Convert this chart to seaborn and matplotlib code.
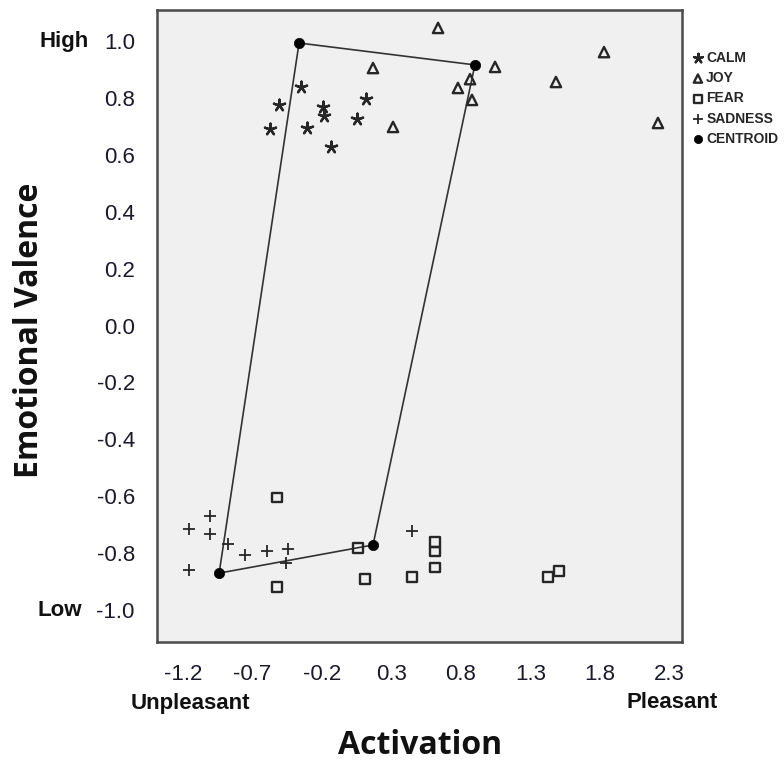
import numpy as np
import pandas as pd
import matplotlib
matplotlib.use('Agg')
import matplotlib.pyplot as plt
import seaborn as sns

# ---- data ----
calm_x = [-0.351, -0.509, -0.193, -0.186, 0.117, 0.052, -0.574, -0.308, -0.135]
calm_y = [0.838, 0.775, 0.768, 0.736, 0.796, 0.726, 0.691, 0.694, 0.627]

joy_x = [0.635, 0.167, 1.045, 0.865, 0.778, 0.879, 1.483, 1.829, 0.311, 2.217]
joy_y = [1.046, 0.905, 0.909, 0.866, 0.835, 0.793, 0.856, 0.961, 0.698, 0.712]

fear_x = [-0.524, -0.524, 0.059, 0.109, 0.447, 0.613, 0.613, 0.613, 1.426, 1.505]
fear_y = [-0.603, -0.919, -0.782, -0.891, -0.884, -0.761, -0.793, -0.849, -0.884, -0.863]

sad_x = [-1.006, -1.157, -1.006, -0.876, -0.754, -0.596, -0.445, -0.459, -1.157, 0.447]
sad_y = [-0.670, -0.715, -0.733, -0.768, -0.807, -0.793, -0.786, -0.835, -0.859, -0.722]

centroid_x = [-0.365, 0.90, -0.94, 0.167]
centroid_y = [0.993, 0.916, -0.870, -0.771]
polygon_order = [0, 1, 3, 2, 0]

groups = ["CALM", "JOY", "FEAR", "SADNESS", "CENTROID"]
x_ticks = [-1.2, -0.7, -0.2, 0.3, 0.8, 1.3, 1.8, 2.3]
y_ticks = [-1.0, -0.8, -0.6, -0.4, -0.2, 0.0, 0.2, 0.4, 0.6, 0.8, 1.0]

df = pd.concat([
    pd.DataFrame({"x": calm_x, "y": calm_y, "group": "CALM"}),
    pd.DataFrame({"x": joy_x, "y": joy_y, "group": "JOY"}),
    pd.DataFrame({"x": fear_x, "y": fear_y, "group": "FEAR"}),
    pd.DataFrame({"x": sad_x, "y": sad_y, "group": "SADNESS"}),
    pd.DataFrame({"x": centroid_x, "y": centroid_y, "group": "CENTROID"}),
], ignore_index=True)

sns.set_theme(style="white")
plt.rcParams['font.family'] = ['Liberation Sans', 'DejaVu Sans']
plt.rcParams['axes.unicode_minus'] = False

W, H = 784, 776
fig = plt.figure(figsize=(W / 100, H / 100), dpi=100)
fig.patch.set_facecolor('white')
ax = fig.add_axes([157 / W, 1 - 642 / H, (682 - 157) / W, (642 - 10) / H])
ax.set_facecolor('#f0f0f0')

ink = '#262626'

# polygon connecting centroids
px = [centroid_x[i] for i in polygon_order]
py = [centroid_y[i] for i in polygon_order]
ax.plot(px, py, color='#333333', lw=1.2, zorder=2)

styles = {
    "CALM": dict(marker=(5, 2, 0), s=70, color=ink, linewidth=1.7),
    "JOY": dict(marker='^', s=55, facecolor='none', edgecolor=ink, linewidth=1.7),
    "FEAR": dict(marker='s', s=45, facecolor='none', edgecolor=ink, linewidth=1.7),
    "SADNESS": dict(marker='+', s=80, color=ink, linewidth=1.3),
    "CENTROID": dict(marker='o', s=55, color='black', edgecolor='black', linewidth=0.5),
}
for g in groups:
    sub = df[df["group"] == g]
    sns.scatterplot(data=sub, x="x", y="y", ax=ax, label=g, zorder=3, **styles[g])

ax.set_xlim(-1.387, 2.39)
ax.set_ylim(-1.112, 1.109)
ax.set_xticks(x_ticks)
ax.set_xticklabels([f"{v:.1f}" for v in x_ticks])
ax.set_yticks(y_ticks)
ax.set_yticklabels([f"{v:.1f}" for v in y_ticks])
ax.set_xlabel("")
ax.set_ylabel("")
ax.tick_params(axis='both', direction='out', length=8, width=1.6, color='#333333',
               labelsize=16, pad=8, labelcolor='#1a1a2a')
for sp in ax.spines.values():
    sp.set_color('#4a4a4a')
    sp.set_linewidth(1.8)

handles, labels = ax.get_legend_handles_labels()
ax.get_legend().remove()
fig.legend(handles, labels, loc='upper left', bbox_to_anchor=(684 / W, 1 - 44 / H),
           frameon=False, prop=dict(weight='bold', size=10, family='Liberation Sans'),
           handletextpad=0.1, labelspacing=0.45, handlelength=1.0, borderpad=0,
           markerscale=0.8)

def ftxt(xp, yp, s, **kw):
    fig.text(xp / W, 1 - yp / H, s, **kw)

ftxt(64, 41, "High", ha='center', va='center', fontsize=16, fontweight='bold', color='#111111')
ftxt(60, 610, "Low", ha='center', va='center', fontsize=16, fontweight='bold', color='#111111')
ftxt(190, 703, "Unpleasant", ha='center', va='center', fontsize=16, fontweight='bold', color='#111111')
ftxt(672, 703, "Pleasant", ha='center', va='center', fontsize=16, fontweight='bold', color='#111111')
ftxt(420, 745, "Activation", ha='center', va='center', fontsize=23, fontweight='bold',
     color='#111111', family=['Open Sans', 'DejaVu Sans'])
ftxt(30, 330, "Emotional Valence", ha='center', va='center', fontsize=23, fontweight='bold',
     rotation=90, color='#111111', family=['Open Sans', 'DejaVu Sans'])

fig.savefig("out.png", dpi=100)
